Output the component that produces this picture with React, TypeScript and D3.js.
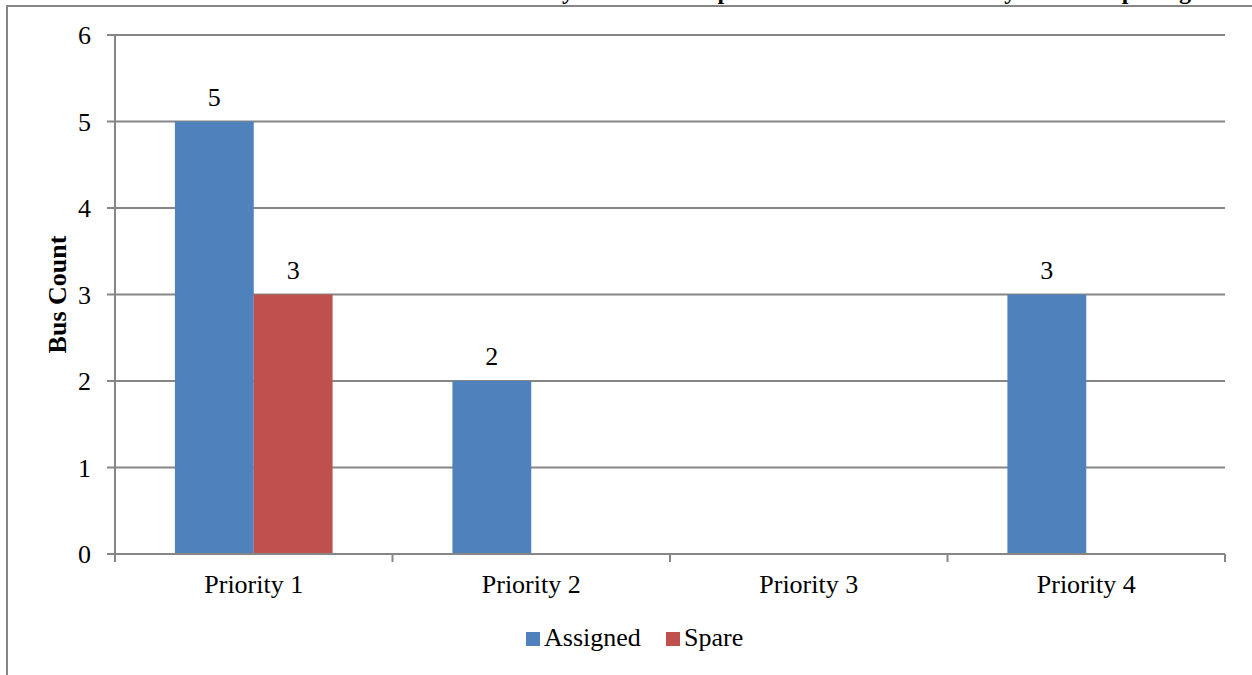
import React, { useEffect, useRef } from "react";
import * as d3 from "d3";

const categories = ["Priority 1", "Priority 2", "Priority 3", "Priority 4"];
const seriesNames = ["Assigned", "Spare"];
const assigned = [5, 2, 0, 3];
const spare = [3, 0, 0, 0];
const yTicks = [0, 1, 2, 3, 4, 5, 6];
const colors = ["#4F81BD", "#C0504D"];
const chartTitle = "Bus Count by Station and Spare Status at Each Route by Service Opening";

const W = 1252;
const H = 675;
const FONT = "'Liberation Serif', 'Times New Roman', serif";
const FS = 26;

export default function App() {
  const ref = useRef<SVGSVGElement | null>(null);

  useEffect(() => {
    const svg = d3.select(ref.current);
    svg.selectAll("*").remove();

    const plot = { left: 115, right: 1225, top: 35, bottom: 554 };
    const axisColor = "#868686";

    // title sits above the chart frame
    svg
      .append("text")
      .attr("x", 434)
      .attr("y", -1)
      .attr("font-family", FONT)
      .attr("font-weight", "bold")
      .attr("font-size", 24)
      .text(chartTitle);

    // chart frame
    svg
      .append("rect")
      .attr("x", 7)
      .attr("y", 6)
      .attr("width", W + 10)
      .attr("height", H + 10)
      .attr("fill", "none")
      .attr("stroke", axisColor)
      .attr("stroke-width", 2);

    const x0 = d3
      .scaleBand<string>()
      .domain(categories)
      .range([plot.left, plot.right])
      .paddingInner(0)
      .paddingOuter(0);
    const x1 = d3
      .scaleBand<string>()
      .domain(seriesNames)
      .range([0, x0.bandwidth()])
      .paddingInner(0)
      .paddingOuter(0.76);
    const y = d3.scaleLinear().domain([0, 6]).range([plot.bottom, plot.top]);

    // gridlines
    svg
      .append("g")
      .selectAll("line")
      .data(yTicks.filter((t) => t > 0))
      .join("line")
      .attr("x1", plot.left)
      .attr("x2", plot.right)
      .attr("y1", (d) => y(d))
      .attr("y2", (d) => y(d))
      .attr("stroke", axisColor)
      .attr("stroke-width", 2);

    // bars and value labels
    const values = [assigned, spare];
    seriesNames.forEach((name, si) => {
      const pts = categories
        .map((c, ci) => ({ c, v: values[si][ci] }))
        .filter((d) => d.v > 0);
      const g = svg.append("g");
      g.selectAll("rect")
        .data(pts)
        .join("rect")
        .attr("x", (d) => x0(d.c)! + x1(name)!)
        .attr("width", x1.bandwidth())
        .attr("y", (d) => y(d.v))
        .attr("height", (d) => y(0) - y(d.v))
        .attr("fill", colors[si]);
      g.selectAll("text")
        .data(pts)
        .join("text")
        .attr("x", (d) => x0(d.c)! + x1(name)! + x1.bandwidth() / 2)
        .attr("y", (d) => y(d.v) - 16)
        .attr("text-anchor", "middle")
        .attr("font-family", FONT)
        .attr("font-size", FS)
        .attr("fill", "#000")
        .text((d) => String(d.v));
    });

    // y axis
    const ya = svg.append("g");
    ya.append("line")
      .attr("x1", plot.left)
      .attr("x2", plot.left)
      .attr("y1", plot.top)
      .attr("y2", plot.bottom)
      .attr("stroke", axisColor)
      .attr("stroke-width", 2);
    ya.selectAll("line.tick")
      .data(yTicks)
      .join("line")
      .attr("class", "tick")
      .attr("x1", plot.left - 8)
      .attr("x2", plot.left)
      .attr("y1", (d) => y(d))
      .attr("y2", (d) => y(d))
      .attr("stroke", axisColor)
      .attr("stroke-width", 2);
    ya.selectAll("text")
      .data(yTicks)
      .join("text")
      .attr("x", 91)
      .attr("y", (d) => y(d) + 9)
      .attr("text-anchor", "end")
      .attr("font-family", FONT)
      .attr("font-size", FS)
      .text((d) => String(d));

    // x axis
    const xa = svg.append("g");
    xa.append("line")
      .attr("x1", plot.left)
      .attr("x2", plot.right)
      .attr("y1", plot.bottom)
      .attr("y2", plot.bottom)
      .attr("stroke", axisColor)
      .attr("stroke-width", 2);
    const bounds = categories.map((c) => x0(c)!).concat([plot.right]);
    xa.selectAll("line.tick")
      .data(bounds)
      .join("line")
      .attr("class", "tick")
      .attr("x1", (d) => d)
      .attr("x2", (d) => d)
      .attr("y1", plot.bottom)
      .attr("y2", plot.bottom + 8)
      .attr("stroke", axisColor)
      .attr("stroke-width", 2);
    xa.selectAll("text")
      .data(categories)
      .join("text")
      .attr("x", (d) => x0(d)! + x0.bandwidth() / 2)
      .attr("y", 593)
      .attr("text-anchor", "middle")
      .attr("font-family", FONT)
      .attr("font-size", FS)
      .text((d) => d);

    // y axis title
    svg
      .append("text")
      .attr("transform", `translate(66,${(plot.top + plot.bottom) / 2}) rotate(-90)`)
      .attr("text-anchor", "middle")
      .attr("font-family", FONT)
      .attr("font-weight", "bold")
      .attr("font-size", FS)
      .text("Bus Count");

    // legend
    const legendItems = [
      { name: seriesNames[0], x: 526 },
      { name: seriesNames[1], x: 666 },
    ];
    const lg = svg.append("g");
    legendItems.forEach((it, i) => {
      lg.append("rect")
        .attr("x", it.x)
        .attr("y", 632)
        .attr("width", 14)
        .attr("height", 14)
        .attr("fill", colors[i]);
      lg.append("text")
        .attr("x", it.x + 18)
        .attr("y", 646)
        .attr("font-family", FONT)
        .attr("font-size", FS)
        .text(it.name);
    });
  }, []);

  return (
    <svg
      ref={ref}
      width={W}
      height={H}
      style={{ position: "absolute", left: 0, top: 0, background: "#fff" }}
    />
  );
}
